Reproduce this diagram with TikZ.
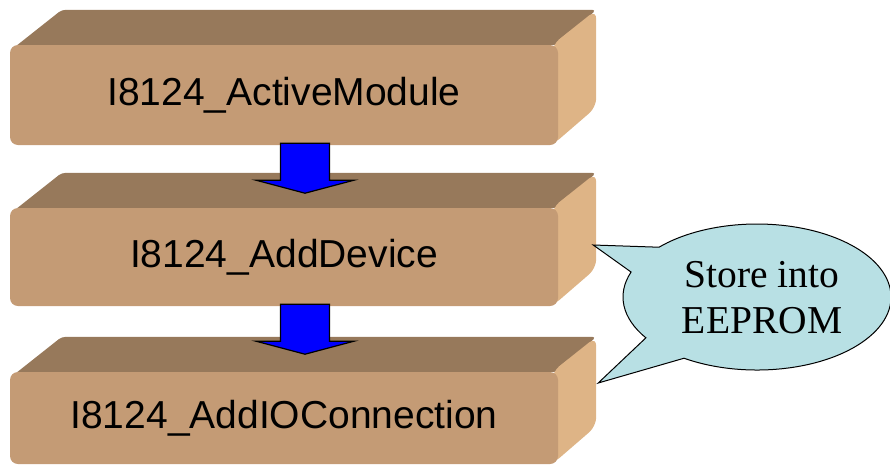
\documentclass[tikz,border=0pt]{standalone}
\usepackage{fontspec}
\setmainfont{Liberation Serif}
\setsansfont{Liberation Sans}
\usetikzlibrary{calc,backgrounds,shapes.geometric}
\definecolor{slabfront}{RGB}{196,155,117}
\definecolor{slabtop}{RGB}{151,121,91}
\definecolor{slabside}{RGB}{222,180,134}
\definecolor{notefill}{RGB}{184,224,228}
\tikzset{
  slab/.style={rectangle, rounded corners=8pt, fill=slabfront, minimum width=548pt,
    inner sep=0pt, font=\sffamily\fontsize{39}{46}\selectfont},
  slabtopface/.style={fill=slabtop, rounded corners=4pt},
  slabsideface/.style={fill=slabside, rounded corners=9pt},
  flowarrow/.style={fill=blue, draw=black, line width=1.2pt, line join=miter},
  bubble/.style={fill=notefill, draw=black, line width=1pt},
}
\begin{document}
\begin{tikzpicture}[x=1pt,y=-1pt]
                \useasboundingbox (0,0) rectangle (890,466);
                % the three slabs
                \node[slab, minimum height=100pt] (active) at (284,95) {I8124\_ActiveModule};
                \node[slab, minimum height=98pt] (add) at (284,257) {I8124\_AddDevice};
                \node[slab, minimum height=92pt] (addio) at (284,418) {I8124\_AddIOConnection};
                \begin{scope}[on background layer]
                    \foreach \n in {active,add,addio} {
                        \fill[slabtopface] ($(\n.north west)+(4,3)$) -- ($(\n.north west)+(52,-35)$)
                            -- ($(\n.north east)+(38,-35)$) -- (\n.north east) -- cycle;
                        \fill[slabsideface] ($(\n.north east)+(-6,0)$) -- ($(\n.north east)+(38,-35)$)
                            -- ($(\n.south east)+(38,-38)$) -- ($(\n.south east)+(-6,0)$) -- cycle;
                    }
                \end{scope}
                % arrows
                \draw[flowarrow] ($(active.south)+(21,-2)$) ++(-24.5,0) -- ++(0,37) -- ++(-24.5,0)
                    -- ++(49,13) -- ++(49,-13) -- ++(-24.5,0) -- ++(0,-37) -- cycle;
                \draw[flowarrow] ($(add.south)+(21,-2)$) ++(-24.5,0) -- ++(0,37) -- ++(-24.5,0)
                    -- ++(49,13) -- ++(49,-13) -- ++(-24.5,0) -- ++(0,-37) -- cycle;
                % callout
                \coordinate (notec) at (757,297);
                \coordinate (tipa) at ($(add.east)+(35,-12)$);
                \coordinate (tipb) at ($(addio.east)+(40,-35)$);
                \draw[bubble] ($(notec)+(223:134 and 73)$) -- (tipa) -- ($(notec)+(200:134 and 73)$)
                    arc[start angle=200, end angle=146, x radius=134, y radius=73]
                    -- (tipb) -- ($(notec)+(123:134 and 73)$)
                    arc[start angle=123, end angle=-137, x radius=134, y radius=73] -- cycle;
                \node[align=center, font=\fontsize{39.5}{46}\selectfont] (note) at (762,298) {Store into\\EEPROM};
\end{tikzpicture}
\end{document}
